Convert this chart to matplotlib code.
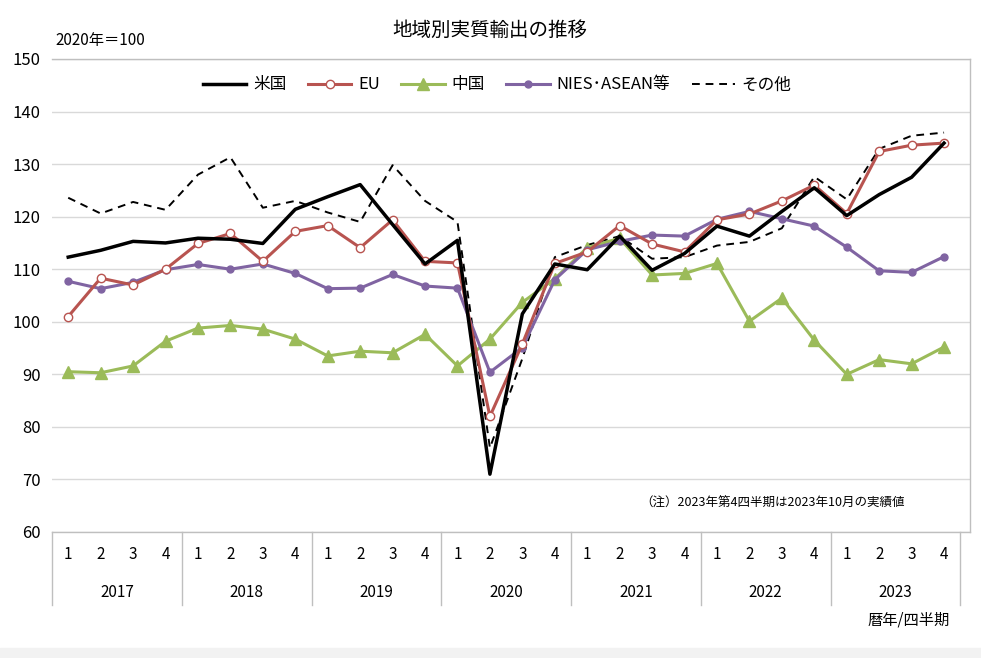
import matplotlib
matplotlib.use("Agg")
import matplotlib.pyplot as plt
import numpy as np

plt.rcParams['font.family'] = ['Noto Sans CJK JP', 'DejaVu Sans']

years = ['2017', '2018', '2019', '2020', '2021', '2022', '2023']
quarters = ['1', '2', '3', '4']
us = [112.3, 113.6, 115.3, 115.0, 115.9, 115.7, 114.9, 121.4, 123.8, 126.1, 118.5, 111.0,
      115.5, 71.0, 101.5, 111.0, 109.9, 116.3, 109.8, 113.0, 118.2, 116.3, 121.0, 125.5,
      120.2, 124.2, 127.5, 134.0]
eu = [101.0, 108.3, 107.0, 110.0, 114.9, 116.8, 111.5, 117.2, 118.3, 114.1, 119.4, 111.5,
      111.2, 82.0, 95.8, 111.1, 113.3, 118.3, 114.8, 113.3, 119.4, 120.5, 123.0, 126.0,
      120.6, 132.4, 133.6, 134.0]
china = [90.5, 90.3, 91.6, 96.3, 98.8, 99.3, 98.6, 96.7, 93.5, 94.4, 94.1, 97.6,
         91.6, 96.7, 103.7, 108.2, 114.1, 115.9, 108.9, 109.2, 111.1, 100.1, 104.5, 96.5,
         90.0, 92.8, 92.0, 95.2]
nies = [107.7, 106.3, 107.5, 109.9, 110.9, 110.0, 111.0, 109.2, 106.3, 106.4, 109.0, 106.8,
        106.4, 90.4, 95.1, 108.0, 113.7, 115.3, 116.5, 116.3, 119.5, 121.0, 119.6, 118.2,
        114.2, 109.7, 109.4, 112.4]
other = [123.6, 120.6, 122.8, 121.3, 128.0, 131.3, 121.7, 123.0, 120.8, 119.0, 129.8, 123.0,
         119.0, 76.0, 93.0, 112.3, 114.6, 116.3, 112.0, 112.3, 114.5, 115.2, 117.8, 127.6,
         123.3, 132.9, 135.4, 136.0]

W, H = 981, 658
fig = plt.figure(figsize=(W/100, H/100), dpi=100)
ax = fig.add_axes([52/W, 1-532/H, 918/W, (532-59)/H])
x = np.arange(len(us))

ax.plot(x, us, color='black', lw=2.5, label='米国', zorder=5)
ax.plot(x, eu, color='#B85450', lw=2.2, marker='o', ms=6, mfc='white', mec='#B85450', label='EU', zorder=4)
ax.plot(x, china, color='#9BBB59', lw=2.2, marker='^', ms=8, label='中国', zorder=3)
ax.plot(x, nies, color='#8064A2', lw=2.2, marker='o', ms=5, label='NIES･ASEAN等', zorder=3)
ax.plot(x, other, color='black', lw=1.4, ls=(0, (4, 3)), label='その他', zorder=2)

ax.set_xlim(-0.5, 27.8)
ax.set_ylim(60, 150)
ax.set_yticks(range(60, 151, 10))
ax.tick_params(axis='y', length=0, labelsize=12, pad=8)
ax.grid(axis='y', color='#d9d9d9', lw=1)
ax.set_axisbelow(True)
ax.set_xticks([])
for s in ax.spines.values():
    s.set_color('#bfbfbf')
    s.set_linewidth(1)
ax.spines['left'].set_visible(False)

trans = ax.get_xaxis_transform()
for i in range(len(us)):
    ax.text(i, -0.048, quarters[i % 4], transform=trans, ha='center', va='center', fontsize=11)
for j, yname in enumerate(years):
    ax.text(4*j + 1.5, -0.127, yname, transform=trans, ha='center', va='center', fontsize=11)
for b in np.arange(-0.5, 28, 4):
    ax.plot([b, b], [0, -0.155], transform=trans, color='#bfbfbf', lw=1, clip_on=False)

leg = ax.legend(loc='upper center', ncol=5, frameon=True, fontsize=12, handlelength=2.6,
                bbox_to_anchor=(0.485, 0.995), columnspacing=1.3, handletextpad=0.4,
                fancybox=False, edgecolor='none')
leg.get_frame().set_facecolor('white')
leg.get_frame().set_alpha(1)

fig.text(490/W, 1-30/H, '地域別実質輸出の推移', ha='center', va='center', fontsize=14)
fig.text(55/W, 1-40/H, '2020年＝100', ha='left', va='center', fontsize=11)
ax.text(905/W*W, 0, '', transform=trans)
fig.text(905/W, 1-503/H, '（注）2023年第4四半期は2023年10月の実績値', ha='right', va='center', fontsize=9)
fig.text(950/W, 1-620/H, '暦年/四半期', ha='right', va='center', fontsize=11)
fig.patches.append(plt.Rectangle((0, 0), 1, 10/H, transform=fig.transFigure, color='#f2f2f2'))

fig.savefig('out.png', dpi=100)
